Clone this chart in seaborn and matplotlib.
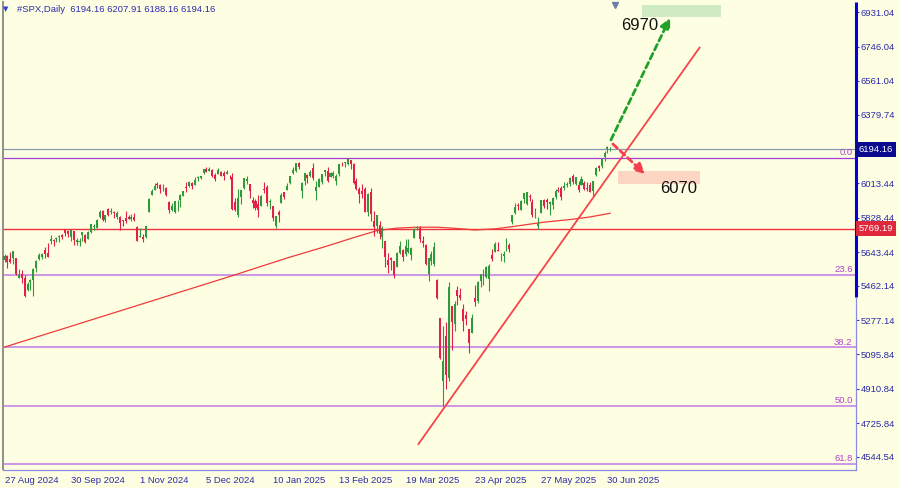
import numpy as np
import pandas as pd
import matplotlib
matplotlib.use("Agg")
import matplotlib.pyplot as plt
import seaborn as sns
from matplotlib.patches import Rectangle
from matplotlib.transforms import blended_transform_factory

# ------------------------------------------------------------------ data
symbol = "#SPX,Daily"
start_date, end_date = "2024-08-27", "2025-07-01"
market_holidays = ["2024-09-02", "2024-11-28", "2024-12-25", "2025-01-01", "2025-01-09",
                   "2025-01-20", "2025-02-17", "2025-04-18", "2025-05-26", "2025-06-19"]

open_px = [
    5602, 5624, 5607, 5612,
    5612, 5507, 5527, 5507, 5442, 5483, 5496, 5557, 5606, 5615, 5655, 5641, 5703, 5709, 5711, 5727, 5733, 5762, 5755, 5727,
    5757, 5698, 5699, 5737, 5737, 5711, 5751, 5778, 5775, 5829, 5866, 5815, 5875, 5860, 5857, 5833, 5834, 5816, 5827, 5833, 5819, 5833, 5776,
    5723, 5725, 5722, 5859, 5947, 5976, 6008, 6003, 5985, 5989, 5913, 5868, 5861, 5917, 5922, 5944, 5992, 6000, 6014, 6004,
    6040, 6042, 6069, 6089, 6081, 6083, 6057, 6060, 6074, 6068, 6063, 6053, 6048, 5913, 5842, 5941, 5985, 6024, 6006, 5921, 5920,
    5903, 5891, 5982, 5993, 5910, 5890, 5782, 5859, 5905, 5964, 5978, 6014, 6069, 6077, 6121, 5970, 6026, 6058, 6053, 6096,
    5970, 5990, 6021, 6073, 6081, 6046, 6050, 6026, 6060, 6116, 6122, 6118, 6135, 6115, 6027, 5983, 5971, 5981, 5857,
    5968, 5811, 5782, 5787, 5726, 5705, 5603, 5612, 5595, 5563, 5641, 5655, 5632, 5646, 5630, 5718, 5775, 5771, 5701, 5679, 5527,
    5597, 5580, 5492, 5292, 4953, 5194, 4966, 5353, 5256, 5442, 5411, 5336, 5306, 5232, 5207, 5395, 5381, 5490, 5529, 5508, 5499,
    5626, 5645, 5655, 5606, 5621, 5663, 5679, 5807, 5854, 5896, 5869, 5929, 5903, 5944, 5910, 5841, 5781, 5855, 5925, 5925, 5903,
    5896, 5939, 5978, 5985, 5987, 6005, 6010, 6049, 6010, 6001, 6005, 6012, 5987, 6004, 5970, 6058, 6104, 6106, 6151, 6194,
    6194.16,
]
high_px = [
    5631, 5627, 5646, 5651,
    5613, 5552, 5546, 5522, 5484, 5497, 5560, 5600, 5636, 5637, 5670, 5690, 5734, 5716, 5725, 5735, 5742, 5767, 5764, 5763,
    5758, 5720, 5718, 5753, 5740, 5756, 5796, 5795, 5822, 5871, 5870, 5843, 5879, 5878, 5866, 5863, 5835, 5817, 5863, 5842, 5847, 5851, 5781,
    5772, 5742, 5783, 5933, 5983, 6012, 6018, 6010, 6009, 5994, 5916, 5909, 5920, 5921, 5953, 5972, 6021, 6025, 6021, 6044,
    6053, 6052, 6088, 6100, 6099, 6088, 6065, 6093, 6079, 6079, 6085, 6057, 6070, 5935, 5982, 5978, 6040, 6049, 6006, 5941, 5930,
    5949, 5949, 6021, 6001, 5928, 5890, 5838, 5871, 5960, 5964, 6014, 6052, 6100, 6119, 6128, 6017, 6070, 6062, 6086, 6121,
    6023, 6042, 6062, 6084, 6101, 6074, 6076, 6064, 6116, 6128, 6129, 6147, 6135, 6120, 6043, 5993, 6009, 5993, 5959,
    5986, 5866, 5845, 5812, 5783, 5705, 5636, 5619, 5597, 5645, 5703, 5659, 5715, 5711, 5670, 5775, 5784, 5783, 5732, 5685, 5612,
    5651, 5695, 5500, 5292, 5247, 5268, 5481, 5353, 5381, 5460, 5450, 5367, 5328, 5233, 5309, 5469, 5486, 5528, 5554, 5571, 5581,
    5659, 5700, 5700, 5640, 5649, 5721, 5691, 5845, 5906, 5906, 5924, 5959, 5968, 5954, 5929, 5878, 5829, 5922, 5930, 5934, 5917,
    5937, 5981, 5990, 5999, 6017, 6022, 6044, 6060, 6046, 6026, 6050, 6024, 6019, 6018, 6026, 6101, 6108, 6146, 6187, 6215,
    6207.91,
]
low_px = [
    5593, 5560, 5583, 5581,
    5520, 5503, 5480, 5402, 5434, 5441, 5406, 5535, 5601, 5605, 5614, 5615, 5689, 5674, 5696, 5700, 5713, 5729, 5727, 5703,
    5681, 5679, 5675, 5703, 5691, 5711, 5745, 5764, 5775, 5825, 5809, 5805, 5838, 5848, 5824, 5822, 5762, 5784, 5799, 5823, 5811, 5810, 5703,
    5723, 5697, 5720, 5859, 5947, 5976, 5987, 5963, 5969, 5942, 5853, 5865, 5851, 5865, 5887, 5944, 5964, 5992, 5984, 6003,
    6026, 6034, 6062, 6075, 6079, 6048, 6024, 6060, 6051, 6030, 6060, 6035, 5867, 5866, 5832, 5902, 5981, 6007, 5932, 5880, 5869,
    5829, 5888, 5960, 5891, 5874, 5809, 5774, 5803, 5905, 5930, 5978, 6008, 6064, 6075, 6089, 5933, 6003, 6013, 6046, 6030,
    5923, 5990, 6007, 6052, 6019, 6046, 6043, 6004, 6051, 6107, 6099, 6111, 6088, 6008, 5977, 5908, 5933, 5858, 5837,
    5810, 5732, 5744, 5711, 5667, 5564, 5529, 5546, 5505, 5563, 5632, 5597, 5622, 5641, 5603, 5718, 5764, 5695, 5670, 5572, 5489,
    5574, 5571, 5390, 5069, 4820, 4910, 4950, 5116, 5221, 5359, 5386, 5220, 5255, 5102, 5207, 5356, 5371, 5455, 5468, 5505, 5434,
    5597, 5644, 5649, 5597, 5589, 5650, 5646, 5793, 5850, 5868, 5867, 5906, 5895, 5918, 5830, 5826, 5767, 5854, 5882, 5875, 5843,
    5876, 5930, 5966, 5921, 5978, 5994, 6000, 6008, 6003, 5964, 6005, 5974, 5971, 5968, 5943, 6052, 6081, 6097, 6133, 6177,
    6188.16,
]
close_px = [
    5625, 5592, 5591, 5648,
    5528, 5520, 5503, 5408, 5471, 5496, 5554, 5596, 5626, 5633, 5634, 5618, 5714, 5703, 5718, 5732, 5722, 5746, 5738, 5762,
    5709, 5709, 5700, 5751, 5696, 5751, 5792, 5780, 5815, 5859, 5815, 5843, 5841, 5865, 5853, 5851, 5797, 5809, 5808, 5823, 5833, 5813, 5705,
    5729, 5712, 5782, 5929, 5973, 5996, 6001, 5984, 5985, 5949, 5871, 5893, 5917, 5917, 5949, 5970, 5987, 6021, 5999, 6032,
    6047, 6050, 6087, 6075, 6090, 6053, 6035, 6085, 6051, 6051, 6074, 6051, 5872, 5867, 5931, 5974, 6040, 6037, 5971, 5907, 5882,
    5869, 5942, 5975, 5909, 5918, 5827, 5837, 5843, 5950, 5937, 5997, 6049, 6086, 6119, 6101, 6012, 6068, 6039, 6071, 6041,
    5994, 6038, 6061, 6084, 6026, 6066, 6068, 6052, 6115, 6115, 6129, 6144, 6118, 6013, 5983, 5955, 5956, 5861, 5955,
    5850, 5778, 5842, 5739, 5770, 5615, 5572, 5599, 5522, 5639, 5675, 5615, 5676, 5663, 5668, 5768, 5777, 5712, 5693, 5581, 5612,
    5633, 5671, 5397, 5074, 5062, 4982, 5457, 5268, 5363, 5406, 5396, 5275, 5283, 5158, 5288, 5376, 5485, 5525, 5529, 5561, 5569,
    5604, 5687, 5650, 5607, 5631, 5664, 5660, 5844, 5886, 5892, 5917, 5958, 5964, 5940, 5845, 5842, 5802, 5921, 5889, 5912, 5912,
    5936, 5970, 5971, 5939, 6000, 6006, 6039, 6022, 6045, 5977, 6033, 5983, 5981, 5967, 6025, 6092, 6092, 6141, 6173, 6205,
    6194.16,
]

# moving average
ma_dates = ["2024-08-27", "2024-09-24", "2024-10-22", "2024-11-19", "2024-12-18", "2025-01-17",
            "2025-02-06", "2025-02-21", "2025-03-05", "2025-03-14", "2025-03-25", "2025-04-03",
            "2025-04-14", "2025-04-23", "2025-05-02", "2025-05-12", "2025-05-28", "2025-06-10",
            "2025-06-20", "2025-07-01"]
ma_values = [5134, 5226, 5323, 5420, 5517, 5612, 5672, 5721, 5758, 5772, 5777, 5777,
             5770, 5762, 5768, 5780, 5804, 5818, 5832, 5852]

x_tick_dates = ["2024-08-27", "2024-09-30", "2024-11-01", "2024-12-05", "2025-01-10",
                "2025-02-13", "2025-03-19", "2025-04-23", "2025-05-27", "2025-06-30"]
x_tick_labels = ["27 Aug 2024", "30 Sep 2024", "1 Nov 2024", "5 Dec 2024", "10 Jan 2025",
                 "13 Feb 2025", "19 Mar 2025", "23 Apr 2025", "27 May 2025", "30 Jun 2025"]
y_ticks = [6931.04, 6746.04, 6561.04, 6379.74, 6194.16, 6013.44, 5828.44,
           5643.44, 5462.14, 5277.14, 5095.84, 4910.84, 4725.84, 4544.54]

bid_price = 6194.16
support_price = 5769.19
fib_labels = ["0.0", "23.6", "38.2", "50.0", "61.8"]
fib_prices = [6147, 5521, 5133, 4820, 4507]

# trend line (bar number, price)
trend_bars = [143.3, 241.1]
trend_prices = [4610, 6744]
# targets
up_arrow_bars, up_arrow_prices = [210.2, 230.7], [6245, 6899]
dn_arrow_bars, dn_arrow_prices = [210.9, 222.0], [6223, 6062]
up_box_bars, up_box_prices = [220.9, 248.2], [6902, 6968]
dn_box_bars, dn_box_prices = [212.8, 241.1], [6007, 6080]
up_label, up_label_pos = "6970", (213.9, 6856)
dn_label, dn_label_pos = "6070", (227.2, 5984)

# ------------------------------------------------------------------ style
BG = "#FEFEE2"
BULL, BEAR = "#2F9A3C", "#E3204A"
AXBLUE = "#2A2AA6"
FS = 6.8

sns.set_style("white")
plt.rcParams["font.family"] = ["Liberation Sans", "DejaVu Sans"]

dates = pd.bdate_range(start_date, end_date)
dates = dates[~dates.isin(pd.to_datetime(market_holidays))]
assert len(dates) == len(open_px) == len(high_px) == len(low_px) == len(close_px)
pos = {d: i for i, d in enumerate(dates)}

o = np.array(open_px, float); h = np.array(high_px, float)
l = np.array(low_px, float); c = np.array(close_px, float)
x = np.arange(len(dates))

fig = plt.figure(figsize=(9, 4.88), dpi=100, facecolor=BG)
ax = fig.add_axes([3 / 900, 18.5 / 488, 853 / 900, 467.5 / 488], facecolor=BG)
ax.set_xlim(-0.52, 295.15)
ax.set_ylim(4477.5, 6984.7)

# horizontal levels
ax.axhline(bid_price, color="#8797B5", lw=0.9, zorder=1)
ax.axhline(support_price, color="#F0303C", lw=1.0, zorder=1)
for i, (lab, p) in enumerate(zip(fib_labels, fib_prices)):
    if i == 0:
        ax.axhline(p, color="#A43BD6", lw=0.9, zorder=1)
    else:
        ax.axhline(p, color="#CC8FE6", lw=1.3, zorder=1)
    ax.text(0.996, p + 4, lab, transform=blended_transform_factory(ax.transAxes, ax.transData),
            ha="right", va="bottom", fontsize=FS, color="#B040CF", zorder=6)

# target boxes
ax.add_patch(Rectangle((up_box_bars[0], up_box_prices[0]), up_box_bars[1] - up_box_bars[0],
                       up_box_prices[1] - up_box_prices[0], fc="#CFEBC3", ec="none", zorder=1.5))
ax.add_patch(Rectangle((dn_box_bars[0], dn_box_prices[0]), dn_box_bars[1] - dn_box_bars[0],
                       dn_box_prices[1] - dn_box_prices[0], fc="#FCD6C3", ec="none", zorder=1.5))

# moving average
ma_x = [pos[pd.Timestamp(d)] for d in ma_dates]
sns.lineplot(x=ma_x, y=ma_values, ax=ax, color="#F03A3A", lw=0.9, legend=False, zorder=2)

# candles
up = c >= o
cols = np.where(up, BULL, BEAR)
ax.vlines(x, l, h, colors=cols, lw=0.8, zorder=3)
body_lo = np.minimum(o, c)
body_h = np.maximum(np.abs(c - o), 3)
ax.bar(x, body_h, bottom=body_lo, width=0.7, color=cols, linewidth=0, zorder=3)

# trend line
ax.plot(trend_bars, trend_prices, color="#F5454A", lw=1.3, zorder=4, solid_capstyle="butt")

# arrows
for bars, prices, col in [(up_arrow_bars, up_arrow_prices, "#23A02A"),
                          (dn_arrow_bars, dn_arrow_prices, "#F2404F")]:
    ax.annotate("", xy=(bars[1], prices[1]), xytext=(bars[0], prices[0]),
                arrowprops=dict(arrowstyle="-|>", color=col, lw=2.0,
                                linestyle=(0, (2.2, 1.4)), mutation_scale=15,
                                shrinkA=0, shrinkB=0), zorder=5)

ax.text(up_label_pos[0], up_label_pos[1], up_label, fontsize=12, color="#111111",
        ha="left", va="center", zorder=6)
ax.text(dn_label_pos[0], dn_label_pos[1], dn_label, fontsize=12, color="#111111",
        ha="left", va="center", zorder=6)

# axes decoration
for s in ["top", "right"]:
    ax.spines[s].set_visible(False)
ax.spines["left"].set_color("#909090")
ax.spines["left"].set_linewidth(1.4)
ax.spines["bottom"].set_color("#8A8AE6")
ax.spines["bottom"].set_linewidth(0.9)
ax.plot([1, 1], [0.369, 1], transform=ax.transAxes, color="#0000DD", lw=2.2,
        clip_on=False, solid_capstyle="butt", zorder=7)
ax.plot([1, 1], [0, 0.369], transform=ax.transAxes, color="#8A8AE6", lw=0.9,
        clip_on=False, solid_capstyle="butt", zorder=7)

ax.yaxis.tick_right()
ax.set_yticks(y_ticks)
# the bid tick is labelled by the highlighted price box instead
ax.set_yticklabels(["" if v == bid_price else f"{v:.2f}" for v in y_ticks])
ax.tick_params(axis="y", direction="out", length=2, width=0.8, color="#3A3AD0",
               labelsize=FS, labelcolor=AXBLUE, pad=1.5, right=True, left=False)
ax.set_xticks([pos[pd.Timestamp(d)] for d in x_tick_dates])
ax.set_xticklabels(x_tick_labels)
ax.tick_params(axis="x", direction="out", length=3, width=0.8, color="#6A6AD8",
               labelsize=FS, labelcolor=AXBLUE, pad=2)
for lbl in ax.get_xticklabels():
    lbl.set_horizontalalignment("left")
ax.set_xlabel(""); ax.set_ylabel("")
ax.grid(False)

# price boxes on the right scale
bt = blended_transform_factory(ax.transAxes, ax.transData)
ax.text(1.003, bid_price, f"{bid_price:.2f}", transform=bt, ha="left", va="center",
        fontsize=FS, color="white", zorder=8, clip_on=False,
        bbox=dict(boxstyle="square,pad=0.3", fc="#0A0A8E", ec="none"))
ax.text(1.003, support_price, f"{support_price:.2f}", transform=bt, ha="left", va="center",
        fontsize=FS, color="white", zorder=8, clip_on=False,
        bbox=dict(boxstyle="square,pad=0.3", fc="#E0283C", ec="none"))

# header
fig.text(6 / 900, 1 - 9.5 / 488, "▼", fontsize=5, color="#2F3FD0", ha="center", va="center",
         family=["DejaVu Sans"])
fig.text(17 / 900, 1 - 10 / 488,
         f"{symbol}  {open_px[-1]:.2f} {high_px[-1]:.2f} {low_px[-1]:.2f} {close_px[-1]:.2f}",
         fontsize=FS, color="#2B2BB0", ha="left", va="center")
# chart shift marker
ax.plot([211.6], [0.993], marker="v", ms=5, color="#6C7FA6",
        transform=blended_transform_factory(ax.transData, ax.transAxes), clip_on=False, zorder=8)

fig.savefig("out.png", dpi=100, facecolor=BG)
